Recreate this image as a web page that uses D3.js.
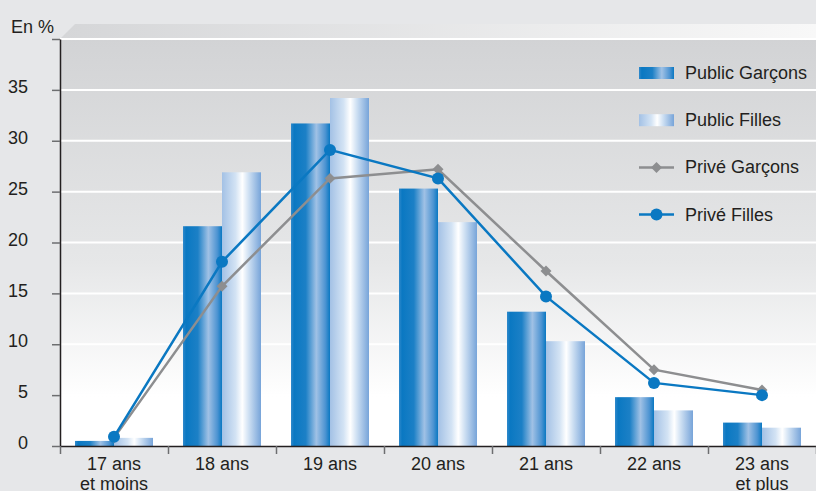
<!DOCTYPE html>
<html>
<head>
<meta charset="utf-8">
<script src="https://cdn.jsdelivr.net/npm/d3@7"></script>
<style>
  html, body { margin: 0; padding: 0; background: #e6e7e9; }
  svg text { font-family: "Liberation Sans", Arial, sans-serif; fill: #231f20; }
</style>
</head>
<body>
<div id="chart"></div>
<script>
// data
var categories = ['17 ans|et moins', '18 ans', '19 ans', '20 ans', '21 ans', '22 ans', '23 ans|et plus'];
var public_garcons = [0.5, 21.6, 31.7, 25.3, 13.2, 4.8, 2.3];
var public_filles = [0.8, 26.9, 34.2, 22.0, 10.3, 3.5, 1.8];
var prive_garcons = [0.8, 15.7, 26.3, 27.2, 17.2, 7.5, 5.5];
var prive_filles = [0.9, 18.1, 29.1, 26.3, 14.7, 6.2, 5.0];
var y_ticks = [0, 5, 10, 15, 20, 25, 30, 35, 40];
var legend_labels = ['Public Garçons', 'Public Filles', 'Privé Garçons', 'Privé Filles'];

var svg_size = {'width': 816, 'height': 491};
var plot = {'left': 60, 'right': 816, 'top': 39, 'bottom': 446};
var font_size = '18px';

var svg = d3.select('#chart')
    .append('svg')
    .attr('width', svg_size.width)
    .attr('height', svg_size.height);

var defs = svg.append('defs');

// gradients
function addGradient(id, stops, vertical) {
    var g = defs.append('linearGradient').attr('id', id);
    if (vertical) {
        g.attr('x1', 0).attr('y1', 0).attr('x2', 0).attr('y2', 1);
    }
    stops.forEach(function(s){
        g.append('stop').attr('offset', s[0]).attr('stop-color', s[1]);
    });
}
addGradient('bg-grad', [['0%', '#d2d3d5'], ['55%', '#e6e7e8'], ['88%', '#ffffff'], ['100%', '#ffffff']], true);
addGradient('top-grad', [['0%', '#d5d6d8'], ['100%', '#f8f8f8']], false);
addGradient('pg-grad', [['0%', '#3089cb'], ['8%', '#0a78c2'], ['38%', '#1c80c6'], ['65%', '#a0c1e5'], ['88%', '#4d94d2'], ['100%', '#0a78c2']], false);
addGradient('pf-grad', [['0%', '#a3c1e5'], ['35%', '#d3e3f4'], ['52%', '#ffffff'], ['68%', '#d0e1f3'], ['100%', '#77a4d9']], false);

// plot background + fake 3d top
svg.append('path')
    .attr('d', 'M' + plot.left + ',' + plot.top + 'L' + (plot.left + 15) + ',' + (plot.top - 15) +
        'L' + plot.right + ',' + (plot.top - 15) + 'L' + plot.right + ',' + plot.top + 'Z')
    .style('fill', 'url(#top-grad)');

svg.append('rect')
    .attr('x', plot.left)
    .attr('y', plot.top)
    .attr('width', plot.right - plot.left)
    .attr('height', plot.bottom - plot.top)
    .style('fill', 'url(#bg-grad)');

// scales
var x_scale = d3.scaleBand()
    .domain(categories)
    .range([plot.left, plot.right]);

var bar_width = 39;
var bar_offset = (x_scale.bandwidth() - 2 * bar_width) / 2;

var y_scale = d3.scaleLinear()
    .domain([0, 40])
    .range([plot.bottom, plot.top]);

// grid
svg.append('g')
    .selectAll('line')
    .data(y_ticks.filter(function(d){ return d > 0; }))
    .enter()
    .append('line')
    .attr('x1', plot.left)
    .attr('x2', plot.right)
    .attr('y1', function(d){ return y_scale(d); })
    .attr('y2', function(d){ return y_scale(d); })
    .style('stroke', '#ffffff')
    .style('stroke-width', 2);

// bars
var bar_group = svg.append('g');
bar_group.selectAll('.pg')
    .data(public_garcons)
    .enter()
    .append('rect')
    .attr('x', function(d, i){ return x_scale(categories[i]) + bar_offset; })
    .attr('y', function(d){ return y_scale(d); })
    .attr('width', bar_width)
    .attr('height', function(d){ return y_scale(0) - y_scale(d); })
    .style('fill', 'url(#pg-grad)');

bar_group.selectAll('.pf')
    .data(public_filles)
    .enter()
    .append('rect')
    .attr('x', function(d, i){ return x_scale(categories[i]) + bar_offset + bar_width; })
    .attr('y', function(d){ return y_scale(d); })
    .attr('width', bar_width)
    .attr('height', function(d){ return y_scale(0) - y_scale(d); })
    .style('fill', 'url(#pf-grad)');

// lines
function cx(d, i){ return x_scale(categories[i]) + x_scale.bandwidth() / 2; }
var line = d3.line()
    .x(cx)
    .y(function(d){ return y_scale(d); });

svg.append('path')
    .datum(prive_garcons)
    .attr('d', line)
    .style('fill', 'none')
    .style('stroke', '#8d8e90')
    .style('stroke-width', 2.5);

svg.append('g')
    .selectAll('path')
    .data(prive_garcons)
    .enter()
    .append('path')
    .attr('d', d3.symbol().type(d3.symbolSquare).size(60))
    .attr('transform', function(d, i){ return 'translate(' + cx(d, i) + ',' + y_scale(d) + ') rotate(45)'; })
    .style('fill', '#8d8e90');

svg.append('path')
    .datum(prive_filles)
    .attr('d', line)
    .style('fill', 'none')
    .style('stroke', '#0a78c2')
    .style('stroke-width', 2.5);

svg.append('g')
    .selectAll('circle')
    .data(prive_filles)
    .enter()
    .append('circle')
    .attr('cx', cx)
    .attr('cy', function(d){ return y_scale(d); })
    .attr('r', 6)
    .style('fill', '#0a78c2');

// y axis
var y_axis = d3.axisLeft(y_scale)
    .tickValues(y_ticks)
    .tickSizeInner(8)
    .tickSizeOuter(0)
    .tickPadding(24)
    .tickFormat(function(d){ return d === 40 ? '' : d; });

var y_axis_group = svg.append('g')
    .attr('transform', 'translate(' + plot.left + ',0)')
    .call(y_axis);
y_axis_group.selectAll('text')
    .attr('dy', '0.15em')
    .style('font-size', font_size);
y_axis_group.selectAll('.tick line')
    .style('stroke', '#6d6e70')
    .style('stroke-width', 1.5);

// x axis: ticks at band boundaries, labels at centers
var boundary_scale = d3.scaleLinear()
    .domain([0, categories.length])
    .range([plot.left, plot.right]);

var x_axis = d3.axisBottom(boundary_scale)
    .ticks(categories.length)
    .tickSizeInner(8)
    .tickSizeOuter(0)
    .tickFormat('');

var x_axis_group = svg.append('g')
    .attr('transform', 'translate(0,' + plot.bottom + ')')
    .call(x_axis);
x_axis_group.selectAll('.tick line')
    .style('stroke', '#6d6e70')
    .style('stroke-width', 1.5);

svg.selectAll('.domain')
    .style('stroke', '#231f20')
    .style('stroke-width', 1.5);

var x_labels = svg.append('g')
    .selectAll('text')
    .data(categories)
    .enter()
    .append('text')
    .attr('x', function(d){ return x_scale(d) + x_scale.bandwidth() / 2; })
    .attr('y', 470)
    .attr('text-anchor', 'middle')
    .style('font-size', font_size);

x_labels.each(function(d){
    var parts = d.split('|');
    var t = d3.select(this);
    parts.forEach(function(p, k){
        t.append('tspan')
            .attr('x', t.attr('x'))
            .attr('dy', k === 0 ? 0 : 20)
            .text(p);
    });
});

// unit label
svg.append('text')
    .attr('x', 11)
    .attr('y', 33)
    .style('font-size', font_size)
    .text('En %');

// legend
var legend = svg.append('g')
    .attr('transform', 'translate(639,73)');

var legend_item = legend.selectAll('.legend-item')
    .data(legend_labels)
    .enter()
    .append('g')
    .attr('transform', function(d, i){ return 'translate(0,' + (i * 47.2) + ')'; });

legend_item.append('text')
    .attr('x', 46)
    .attr('y', 0)
    .attr('dominant-baseline', 'central')
    .style('font-size', font_size)
    .text(function(d){ return d; });

legend_item.filter(function(d, i){ return i < 2; })
    .append('rect')
    .attr('x', 0)
    .attr('y', -6)
    .attr('width', 35)
    .attr('height', 12)
    .style('fill', function(d, i){ return i === 0 ? 'url(#pg-grad)' : 'url(#pf-grad)'; });

legend_item.filter(function(d, i){ return i >= 2; })
    .append('line')
    .attr('x1', 0)
    .attr('x2', 35)
    .style('stroke', function(d, i){ return i === 0 ? '#8d8e90' : '#0a78c2'; })
    .style('stroke-width', 2.5);

legend_item.filter(function(d, i){ return i === 2; })
    .append('path')
    .attr('d', d3.symbol().type(d3.symbolSquare).size(60))
    .attr('transform', 'translate(17.5,0) rotate(45)')
    .style('fill', '#8d8e90');

legend_item.filter(function(d, i){ return i === 3; })
    .append('circle')
    .attr('cx', 17.5)
    .attr('r', 6)
    .style('fill', '#0a78c2');
</script>
</body>
</html>
